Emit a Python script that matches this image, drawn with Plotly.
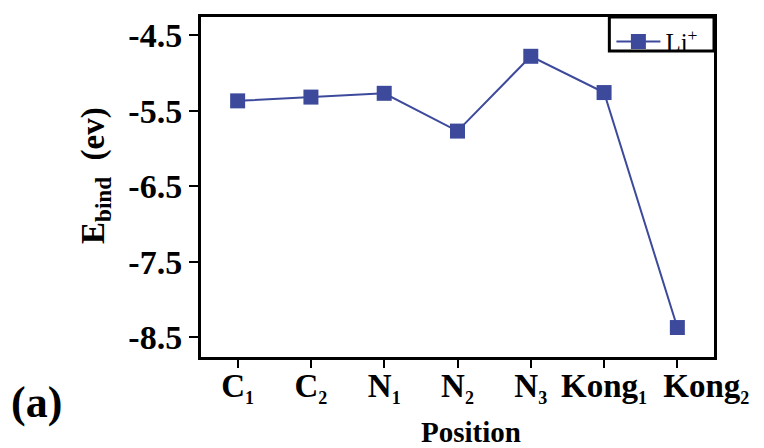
import plotly.graph_objects as go

positions = ["C<sub>1</sub>", "C<sub>2</sub>", "N<sub>1</sub>", "N<sub>2</sub>", "N<sub>3</sub>",
             "Kong<sub>1</sub>", "Kong<sub>2</sub>"]
li_values = [-5.37, -5.32, -5.27, -5.77, -4.78, -5.26, -8.37]
y_ticks = [-4.5, -5.5, -6.5, -7.5, -8.5]
y_tick_labels = ["-4.5", "-5.5", "-6.5", "-7.5", "-8.5"]

color = "#3d4a9c"
font = "Liberation Serif"


def fmt_tick(label, i):
    base, sub = label.replace("</sub>", "").split("<sub>")
    txt = "<b>%s<sub><span style='font-size:18px'>%s</span></sub></b>" % (base, sub)
    if i == len(positions) - 1:
        txt = "&nbsp;" * 7 + txt  # pushed right as in the original
    return txt


fig = go.Figure()
fig.add_trace(go.Scatter(
    x=list(range(len(positions))), y=li_values, mode="lines+markers",
    name="Li<sup>+</sup>",
    line=dict(color=color, width=2),
    marker=dict(symbol="square", size=15, color=color),
))

fig.update_layout(
    width=764, height=448,
    margin=dict(l=193, r=58, t=9, b=99, autoexpand=False),
    paper_bgcolor="white", plot_bgcolor="white",
    font=dict(family=font, color="black"),
    showlegend=True,
    legend=dict(x=0.8, y=0.995, xanchor="left", yanchor="top",
                bgcolor="rgba(0,0,0,0)", borderwidth=0,
                font=dict(family=font, size=25, color="black"),
                itemwidth=44, tracegroupgap=0),
    xaxis=dict(
        range=[-0.5, 6.5], tickmode="array", tickangle=0,
        tickvals=list(range(len(positions))),
        ticktext=[fmt_tick(p, i) for i, p in enumerate(positions)],
        ticks="outside", ticklen=8, tickwidth=2, tickcolor="black",
        ticklabelstandoff=-11,
        showline=True, linecolor="black", linewidth=3, mirror=True,
        showgrid=False, zeroline=False,
        tickfont=dict(family=font, size=33, color="black"),
    ),
    yaxis=dict(
        range=[-8.76, -4.26], tickmode="array",
        tickvals=y_ticks, ticktext=["<b>%s</b>" % t for t in y_tick_labels],
        ticks="outside", ticklen=9, tickwidth=2, tickcolor="black",
        showline=True, linecolor="black", linewidth=3, mirror=True,
        showgrid=False, zeroline=False,
        tickfont=dict(family=font, size=34, color="black"),
    ),
)

# legend frame
fig.add_shape(type="rect", xref="paper", yref="paper", x0=0.796, x1=1.0, y0=0.9, y1=1.0,
              line=dict(color="black", width=3), fillcolor="white", layer="below")

fig.add_annotation(text="<b>E<sub>bind</sub>  (ev)</b>", xref="paper", yref="paper",
                   x=-0.207, y=0.535, textangle=-90, showarrow=False,
                   xanchor="center", yanchor="middle",
                   font=dict(family=font, size=33, color="black"))
fig.add_annotation(text="<b>Position</b>", xref="paper", yref="paper",
                   x=0.526, y=-0.222, showarrow=False, xanchor="center", yanchor="middle",
                   font=dict(family=font, size=29, color="black"))
fig.add_annotation(text="<b>(a)</b>", xref="paper", yref="paper", x=-0.374, y=-0.135,
                   xanchor="left", yanchor="middle", showarrow=False,
                   font=dict(family=font, size=44, color="black"))

fig.write_html("out.html")
